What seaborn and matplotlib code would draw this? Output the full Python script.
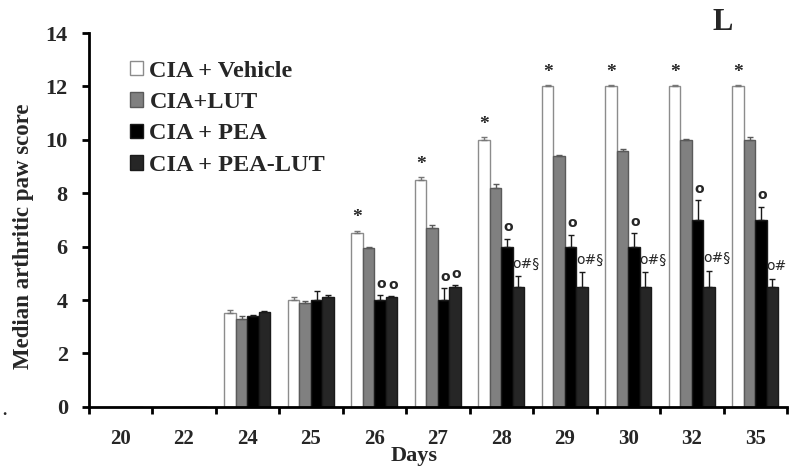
import numpy as np
import pandas as pd
import matplotlib
matplotlib.use("Agg")
import matplotlib.pyplot as plt
import seaborn as sns

# data
days = ["20", "22", "24", "25", "26", "27", "28", "29", "30", "32", "35"]
groups = ["CIA + Vehicle", "CIA+LUT", "CIA + PEA", "CIA + PEA-LUT"]

vehicle = [0, 0, 3.5, 4.0, 6.5, 8.5, 10.0, 12.0, 12.0, 12.0, 12.0]
lut = [0, 0, 3.3, 3.9, 5.95, 6.7, 8.2, 9.4, 9.6, 10.0, 10.0]
pea = [0, 0, 3.4, 4.0, 4.0, 4.0, 6.0, 6.0, 6.0, 7.0, 7.0]
pea_lut = [0, 0, 3.55, 4.1, 4.1, 4.5, 4.5, 4.5, 4.5, 4.5, 4.5]

vehicle_err = [0, 0, 0.12, 0.1, 0.1, 0.1, 0.1, 0.05, 0.05, 0.05, 0.05]
lut_err = [0, 0, 0.1, 0.05, 0.05, 0.1, 0.15, 0.05, 0.05, 0.05, 0.1]
pea_err = [0, 0, 0.05, 0.35, 0.2, 0.45, 0.3, 0.45, 0.5, 0.75, 0.5]
pea_lut_err = [0, 0, 0.03, 0.08, 0.05, 0.05, 0.4, 0.55, 0.55, 0.6, 0.3]

vehicle_ann = ["", "", "", "", "*", "*", "*", "*", "*", "*", "*"]
pea_ann = ["", "", "", "", "o", "o", "o", "o", "o", "o", "o"]
pea_lut_ann = ["", "", "", "", "o", "o", "o#§", "o#§", "o#§", "o#§", "o#"]

colors = ["#ffffff", "#808080", "#000000", "#262626"]
edges = ["#8c8c8c", "#5a5a5a", "#1a1a1a", "#1a1a1a"]

df = pd.DataFrame({
    "Day": days * 4,
    "Group": np.repeat(groups, len(days)),
    "Score": vehicle + lut + pea + pea_lut,
})

sns.set_style("white")
plt.rcParams["font.family"] = ["Liberation Serif", "DejaVu Serif"]
plt.rcParams["font.weight"] = "bold"

fig = plt.figure(figsize=(7.91, 4.72), dpi=100)
ax = fig.add_axes([0.112, 0.138, 0.883, 0.792])

sns.barplot(data=df, x="Day", y="Score", hue="Group", order=days, hue_order=groups,
            palette=colors, width=0.72, errorbar=None, ax=ax, legend=False)

errs = [vehicle_err, lut_err, pea_err, pea_lut_err]
anns = [vehicle_ann, None, pea_ann, pea_lut_ann]
bar_containers = list(ax.containers)
for gi, cont in enumerate(bar_containers):
    for di, bar in enumerate(cont):
        if bar is None:
            continue
        bar.set_edgecolor(edges[gi])
        bar.set_linewidth(1.0)
        h = bar.get_height()
        if h <= 0:
            continue
        cx = bar.get_x() + bar.get_width() / 2
        e = errs[gi][di]
        ax.errorbar(cx, h, yerr=[[0], [e]], fmt="none", ecolor=edges[gi] if gi else "#777777",
                    elinewidth=1, capsize=2.5, capthick=1)
        if anns[gi] is not None and anns[gi][di]:
            txt = anns[gi][di]
            if txt == "*":
                ax.annotate(txt, (cx, h + e), xytext=(0, 3), textcoords="offset points",
                            ha="center", va="bottom", fontsize=14, fontweight="bold")
            elif gi == 3 and len(txt) > 1:
                ax.annotate(txt, (bar.get_x(), h + e), xytext=(0, 4), textcoords="offset points",
                            ha="left", va="bottom", fontsize=10, fontweight="normal",
                            family=["DejaVu Sans"])
            else:
                ax.annotate(txt, (cx, h + e), xytext=(1, 3), textcoords="offset points",
                            ha="center", va="bottom", fontsize=10, fontweight="bold",
                            family=["DejaVu Sans"])

ax.set_ylim(0, 14)
ax.set_xlim(-0.5, len(days) - 0.5)
ax.set_yticks(np.arange(0, 15, 2))
ax.set_xticks(np.arange(len(days)))
ax.set_xticklabels(days)
ax.set_xticks(np.arange(-0.5, len(days), 1.0), minor=True)
ax.tick_params(which="both", bottom=True, left=True)
ax.tick_params(axis="x", which="major", length=0, pad=16, labelsize=15)
ax.tick_params(axis="x", which="minor", length=5, width=2, direction="out", color="black")
ax.tick_params(axis="y", length=5, width=2, direction="out", color="black", labelsize=16, pad=10)
for lab in ax.get_xticklabels() + ax.get_yticklabels():
    lab.set_fontweight("bold")

sns.despine(ax=ax)
for side in ["left", "bottom"]:
    ax.spines[side].set_linewidth(2)
    ax.spines[side].set_color("black")

ax.set_xlabel("Days", fontsize=16, fontweight="bold")
ax.xaxis.set_label_coords(0.466, -0.104)
ax.set_ylabel("Median arthritic paw score", fontsize=16.5, fontweight="bold")
ax.yaxis.set_label_coords(-0.093, 0.457)
ax.yaxis.label.set_va("center")

handles = [plt.Rectangle((0, 0), 1, 1, facecolor=c, edgecolor=ec, linewidth=1)
           for c, ec in zip(colors, edges)]
ax.legend(handles, groups, loc="upper left", bbox_to_anchor=(0.028, 0.985), frameon=False,
          prop={"size": 17.5, "weight": "bold"}, handlelength=0.55, handleheight=0.55,
          handletextpad=0.25, labelspacing=0.43)

fig.text(0.914, 0.953, "L", fontsize=22, fontweight="bold", ha="center", va="center")
fig.text(0.006, 0.13, ".", fontsize=12, ha="center", va="center")

fig.savefig("out.png", dpi=100)
